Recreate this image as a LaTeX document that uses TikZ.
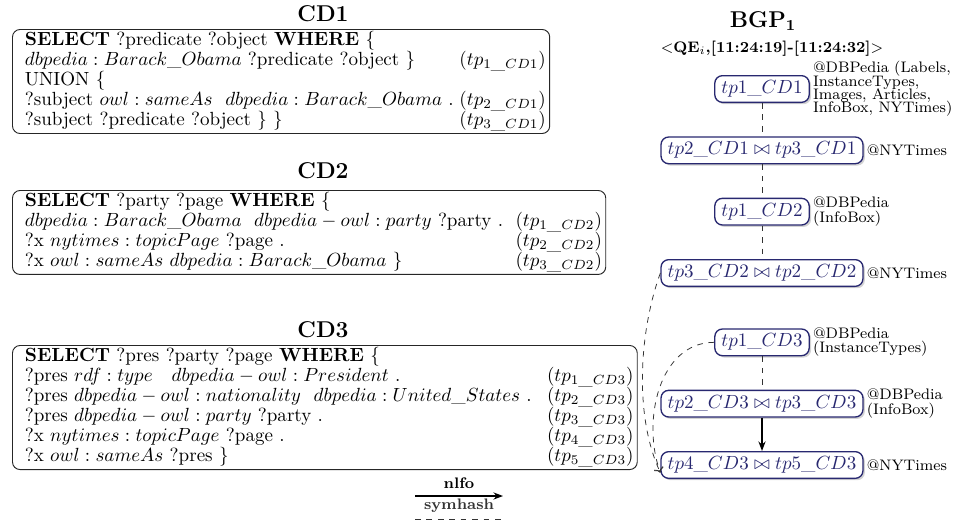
\documentclass[tikz,border=0pt]{standalone}
\usepackage{xcolor}
\usepackage{tikz}
\usetikzlibrary{arrows.meta, positioning, calc, shadows}

\definecolor{tpnavy}{RGB}{40,40,112}
\renewcommand{\arraystretch}{0.84}

\begin{document}
\begin{tikzpicture}[x=0.525pt, y=0.525pt, font=\normalsize, node distance=17.5pt]
		\tikzset{
			cdtitle/.style={font=\large\bfseries, anchor=base},
			query/.style={draw=black!85, line width=0.5pt, rounded corners=4pt, anchor=north west, inner xsep=2pt, inner ysep=1pt, align=left},
			tp/.style={draw=tpnavy, line width=0.7pt, rounded corners=4pt, fill=white, text=tpnavy, inner xsep=3.5pt, inner ysep=2.4pt, minimum height=14pt, drop shadow={shadow xshift=1pt, shadow yshift=-1pt, opacity=0.35}},
			src/.style={font=\footnotesize, align=left, inner sep=1.5pt},
			link/.style={dashed, black!80, line width=0.4pt},
			order/.style={-{Stealth[length=5pt]}, line width=1pt}
		}
		\useasboundingbox (0,0) rectangle (965,-524);

		% candidate queries
		\node[cdtitle] (cd1t) at (323,-21) {CD1};
		\node[query] (cd1) at (12,-29) {\begin{tabular}{@{\hskip 4.5pt}l@{\hskip 3pt}r@{}}
			\textbf{SELECT} ?predicate ?object \textbf{WHERE} \{ & \\
			$dbpedia:Barack\_Obama$ ?predicate ?object \} & $(tp_{1\_CD1})$ \\
			UNION \{ & \\
			?subject $owl:sameAs\ \ dbpedia:Barack\_Obama$ . & $(tp_{2\_CD1})$ \\
			?subject ?predicate ?object \} \} & $(tp_{3\_CD1})$
		\end{tabular}};

		\node[cdtitle] (cd2t) at (323,-178) {CD2};
		\node[query] (cd2) at (12,-190) {\begin{tabular}{@{\hskip 4.5pt}l@{\hskip 6.5pt}r@{}}
			\textbf{SELECT} ?party ?page \textbf{WHERE} \{ & \\
			$dbpedia:Barack\_Obama\ \ dbpedia-owl:party$ ?party . & $(tp_{1\_CD2})$ \\
			?x $nytimes:topicPage$ ?page . & $(tp_{2\_CD2})$ \\
			?x $owl:sameAs\ dbpedia:Barack\_Obama$ \} & $(tp_{3\_CD2})$
		\end{tabular}};

		\node[cdtitle] (cd3t) at (323,-337) {CD3};
		\node[query] (cd3) at (12,-345) {\begin{tabular}{@{\hskip 4.5pt}l@{\hskip 8pt}r@{}}
			\textbf{SELECT} ?pres ?party ?page \textbf{WHERE} \{ & \\
			?pres $rdf:type\ \ \ dbpedia-owl:President$ . & $(tp_{1\_CD3})$ \\
			?pres $dbpedia-owl:nationality\ \ dbpedia:United\_States$ . & $(tp_{2\_CD3})$ \\
			?pres $dbpedia-owl:party$ ?party . & $(tp_{3\_CD3})$ \\
			?x $nytimes:topicPage$ ?page . & $(tp_{4\_CD3})$ \\
			?x $owl:sameAs$ ?pres \} & $(tp_{5\_CD3})$
		\end{tabular}};

		% basic graph pattern
		\node[cdtitle] (bgpt) at (763,-27) {BGP$_{\mathbf{1}}$};
		\node[font=\footnotesize, anchor=base] (qe) at (772,-52) {$<$\textbf{QE}$_i$\textbf{,[11:24:19]-[11:24:32]}$>$};

		\node[tp] (t1) at (762,-89) {$tp1\_CD1$};
		\node[tp, below=of t1] (t2) {$tp2\_CD1 \bowtie tp3\_CD1$};
		\node[tp, below=of t2] (t3) {$tp1\_CD2$};
		\node[tp, below=of t3] (t4) {$tp3\_CD2 \bowtie tp2\_CD2$};
		\node[tp, below=21.7pt of t4] (t5) {$tp1\_CD3$};
		\node[tp, below=of t5] (t6) {$tp2\_CD3 \bowtie tp3\_CD3$};
		\node[tp, below=of t6] (t7) {$tp4\_CD3 \bowtie tp5\_CD3$};

		\node[src, right=0pt of t1] (s1) {@DBPedia (Labels,\\[-2.5pt]InstanceTypes,\\[-2.5pt]Images, Articles,\\[-2.5pt]InfoBox, NYTimes)};
		\node[src, right=0pt of t2] (s2) {@NYTimes};
		\node[src, right=0pt of t3] (s3) {@DBPedia\\[-2pt](InfoBox)};
		\node[src, right=0pt of t4] (s4) {@NYTimes};
		\node[src, right=0pt of t5] (s5) {@DBPedia\\[-2pt](InstanceTypes)};
		\node[src, right=0pt of t6] (s6) {@DBPedia\\[-2pt](InfoBox)};
		\node[src, right=0pt of t7] (s7) {@NYTimes};

		\draw[link] (t1) -- (t2);
		\draw[link] (t2) -- (t3);
		\draw[link] (t3) -- (t4);
		\draw[link] (t5) -- (t6);
		\draw[order] (t6) -- (t7);
		\draw[link, -{To}] (t4.west) to[out=250, in=115, looseness=0.8] ([yshift=-4pt]t7.west);
		\draw[link, -{To}] (t5.west) to[out=180, in=110] ([yshift=-4pt]t7.west);

		% legend
		\coordinate (la) at (415,-496);
		\coordinate (lb) at (503,-496);
		\coordinate (lc) at (415,-519);
		\coordinate (ld) at (503,-519);
		\draw[order] (la) -- node[above, font=\footnotesize\bfseries] (nlfo) {nlfo} (lb);
		\draw[link] (lc) -- node[above, font=\footnotesize\bfseries] (symhash) {symhash} (ld);
	\end{tikzpicture}
\end{document}
